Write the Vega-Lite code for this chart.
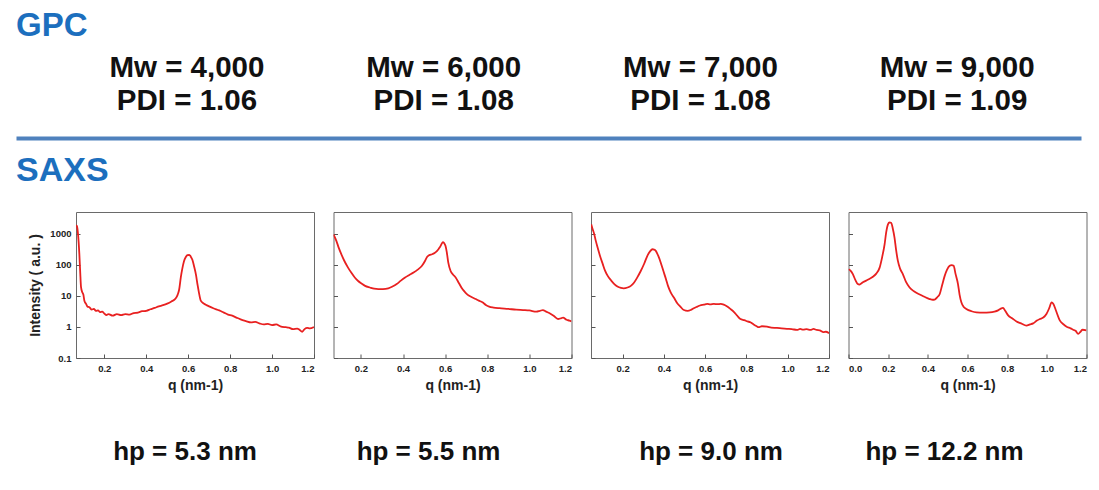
{
  "$schema": "https://vega.github.io/schema/vega-lite/v6.json",
  "background": "white",
  "padding": {"left": 16, "top": 10, "right": 3, "bottom": 0},
  "spacing": 15,
  "config": {
    "font": "Liberation Sans",
    "view": {"stroke": null},
    "axis": {"labelFontSize": 9.5, "labelFontWeight": "bold", "labelColor": "#222", "tickColor": "#555", "tickSize": -4, "domain": false, "grid": false, "titleFontSize": 14, "titleFontWeight": "bold", "titleColor": "#222"}
  },
  "datasets": {
    "gpc": [
      {"sample": "A", "label": "Mw = 4,000\nPDI = 1.06"},
      {"sample": "B", "label": "Mw = 6,000\nPDI = 1.08"},
      {"sample": "C", "label": "Mw = 7,000\nPDI = 1.08"},
      {"sample": "D", "label": "Mw = 9,000\nPDI = 1.09"}
    ],
    "saxs": [
      {"p":1,"q":0.066,"I":1900},{"p":1,"q":0.07,"I":1700},{"p":1,"q":0.075,"I":900},{"p":1,"q":0.081,"I":220},{"p":1,"q":0.085,"I":60},{"p":1,"q":0.089,"I":19},{"p":1,"q":0.095,"I":13},{"p":1,"q":0.1,"I":11},{"p":1,"q":0.105,"I":7},{"p":1,"q":0.113,"I":5.5},{"p":1,"q":0.12,"I":4.5},{"p":1,"q":0.129,"I":4.3},{"p":1,"q":0.14,"I":3.6},{"p":1,"q":0.15,"I":3.8},{"p":1,"q":0.16,"I":3.3},{"p":1,"q":0.17,"I":3.4},{"p":1,"q":0.18,"I":3.0},{"p":1,"q":0.19,"I":3.1},{"p":1,"q":0.2,"I":2.7},{"p":1,"q":0.21,"I":2.4},{"p":1,"q":0.22,"I":2.6},{"p":1,"q":0.24,"I":2.3},{"p":1,"q":0.26,"I":2.6},{"p":1,"q":0.28,"I":2.4},{"p":1,"q":0.3,"I":2.6},{"p":1,"q":0.32,"I":2.5},{"p":1,"q":0.34,"I":2.8},{"p":1,"q":0.36,"I":2.9},{"p":1,"q":0.38,"I":3.2},{"p":1,"q":0.4,"I":3.3},{"p":1,"q":0.42,"I":3.7},{"p":1,"q":0.44,"I":4.1},{"p":1,"q":0.46,"I":4.6},{"p":1,"q":0.48,"I":5.0},{"p":1,"q":0.5,"I":5.6},{"p":1,"q":0.52,"I":6.6},{"p":1,"q":0.54,"I":8.2},{"p":1,"q":0.55,"I":11},{"p":1,"q":0.557,"I":16},{"p":1,"q":0.565,"I":40},{"p":1,"q":0.572,"I":75},{"p":1,"q":0.58,"I":130},{"p":1,"q":0.588,"I":175},{"p":1,"q":0.597,"I":205},{"p":1,"q":0.605,"I":210},{"p":1,"q":0.612,"I":185},{"p":1,"q":0.62,"I":145},{"p":1,"q":0.628,"I":90},{"p":1,"q":0.637,"I":48},{"p":1,"q":0.645,"I":22},{"p":1,"q":0.652,"I":12},{"p":1,"q":0.66,"I":7},{"p":1,"q":0.672,"I":5.8},{"p":1,"q":0.684,"I":5.2},{"p":1,"q":0.7,"I":4.6},{"p":1,"q":0.72,"I":4.0},{"p":1,"q":0.748,"I":3.4},{"p":1,"q":0.77,"I":2.9},{"p":1,"q":0.79,"I":2.5},{"p":1,"q":0.81,"I":2.3},{"p":1,"q":0.83,"I":2.0},{"p":1,"q":0.85,"I":1.75},{"p":1,"q":0.875,"I":1.55},{"p":1,"q":0.9,"I":1.4},{"p":1,"q":0.92,"I":1.45},{"p":1,"q":0.94,"I":1.3},{"p":1,"q":0.96,"I":1.2},{"p":1,"q":0.98,"I":1.25},{"p":1,"q":1.0,"I":1.15},{"p":1,"q":1.02,"I":1.2},{"p":1,"q":1.04,"I":1.05},{"p":1,"q":1.065,"I":0.98},{"p":1,"q":1.08,"I":0.95},{"p":1,"q":1.1,"I":0.85},{"p":1,"q":1.12,"I":0.88},{"p":1,"q":1.13,"I":0.82},{"p":1,"q":1.144,"I":0.7},{"p":1,"q":1.155,"I":0.85},{"p":1,"q":1.168,"I":0.93},{"p":1,"q":1.18,"I":0.9},{"p":1,"q":1.2,"I":1.0},
      {"p":2,"q":0.07,"I":950},{"p":2,"q":0.084,"I":580},{"p":2,"q":0.095,"I":350},{"p":2,"q":0.107,"I":220},{"p":2,"q":0.12,"I":140},{"p":2,"q":0.139,"I":81},{"p":2,"q":0.155,"I":55},{"p":2,"q":0.171,"I":39},{"p":2,"q":0.187,"I":30},{"p":2,"q":0.203,"I":25},{"p":2,"q":0.22,"I":21},{"p":2,"q":0.243,"I":18.6},{"p":2,"q":0.263,"I":17},{"p":2,"q":0.283,"I":16.5},{"p":2,"q":0.305,"I":16.5},{"p":2,"q":0.33,"I":17.4},{"p":2,"q":0.35,"I":20},{"p":2,"q":0.37,"I":24},{"p":2,"q":0.39,"I":31},{"p":2,"q":0.41,"I":39},{"p":2,"q":0.43,"I":47},{"p":2,"q":0.45,"I":56},{"p":2,"q":0.47,"I":70},{"p":2,"q":0.49,"I":93},{"p":2,"q":0.505,"I":135},{"p":2,"q":0.514,"I":178},{"p":2,"q":0.525,"I":205},{"p":2,"q":0.538,"I":218},{"p":2,"q":0.55,"I":240},{"p":2,"q":0.562,"I":280},{"p":2,"q":0.57,"I":330},{"p":2,"q":0.578,"I":400},{"p":2,"q":0.584,"I":480},{"p":2,"q":0.589,"I":540},{"p":2,"q":0.595,"I":500},{"p":2,"q":0.602,"I":400},{"p":2,"q":0.608,"I":250},{"p":2,"q":0.615,"I":117},{"p":2,"q":0.626,"I":63},{"p":2,"q":0.638,"I":48},{"p":2,"q":0.65,"I":39},{"p":2,"q":0.665,"I":26},{"p":2,"q":0.682,"I":16.5},{"p":2,"q":0.695,"I":13},{"p":2,"q":0.706,"I":11},{"p":2,"q":0.725,"I":9.2},{"p":2,"q":0.745,"I":7.9},{"p":2,"q":0.76,"I":7.0},{"p":2,"q":0.777,"I":6.2},{"p":2,"q":0.795,"I":5.0},{"p":2,"q":0.809,"I":4.5},{"p":2,"q":0.83,"I":4.2},{"p":2,"q":0.857,"I":4.0},{"p":2,"q":0.9,"I":3.8},{"p":2,"q":0.937,"I":3.6},{"p":2,"q":0.97,"I":3.5},{"p":2,"q":1.0,"I":3.4},{"p":2,"q":1.033,"I":3.1},{"p":2,"q":1.05,"I":3.3},{"p":2,"q":1.064,"I":3.5},{"p":2,"q":1.08,"I":3.1},{"p":2,"q":1.096,"I":2.75},{"p":2,"q":1.115,"I":2.3},{"p":2,"q":1.136,"I":1.8},{"p":2,"q":1.15,"I":1.9},{"p":2,"q":1.16,"I":2.0},{"p":2,"q":1.176,"I":1.7},{"p":2,"q":1.19,"I":1.6},{"p":2,"q":1.2,"I":1.5},
      {"p":3,"q":0.048,"I":2000},{"p":3,"q":0.055,"I":1400},{"p":3,"q":0.063,"I":950},{"p":3,"q":0.07,"I":600},{"p":3,"q":0.079,"I":360},{"p":3,"q":0.09,"I":200},{"p":3,"q":0.104,"I":105},{"p":3,"q":0.115,"I":65},{"p":3,"q":0.128,"I":44},{"p":3,"q":0.145,"I":31},{"p":3,"q":0.16,"I":24},{"p":3,"q":0.175,"I":20},{"p":3,"q":0.192,"I":18},{"p":3,"q":0.205,"I":17.5},{"p":3,"q":0.224,"I":18.6},{"p":3,"q":0.24,"I":21},{"p":3,"q":0.256,"I":27},{"p":3,"q":0.272,"I":40},{"p":3,"q":0.288,"I":63},{"p":3,"q":0.305,"I":110},{"p":3,"q":0.32,"I":195},{"p":3,"q":0.333,"I":270},{"p":3,"q":0.345,"I":316},{"p":3,"q":0.353,"I":310},{"p":3,"q":0.361,"I":280},{"p":3,"q":0.372,"I":200},{"p":3,"q":0.385,"I":117},{"p":3,"q":0.397,"I":65},{"p":3,"q":0.41,"I":35},{"p":3,"q":0.42,"I":21},{"p":3,"q":0.433,"I":13},{"p":3,"q":0.45,"I":8.5},{"p":3,"q":0.465,"I":5.8},{"p":3,"q":0.48,"I":4.5},{"p":3,"q":0.497,"I":3.5},{"p":3,"q":0.515,"I":3.3},{"p":3,"q":0.53,"I":3.5},{"p":3,"q":0.545,"I":4.0},{"p":3,"q":0.562,"I":4.5},{"p":3,"q":0.575,"I":4.9},{"p":3,"q":0.594,"I":5.2},{"p":3,"q":0.61,"I":5.5},{"p":3,"q":0.625,"I":5.3},{"p":3,"q":0.642,"I":5.5},{"p":3,"q":0.66,"I":5.4},{"p":3,"q":0.675,"I":5.5},{"p":3,"q":0.69,"I":5.2},{"p":3,"q":0.705,"I":4.6},{"p":3,"q":0.722,"I":3.8},{"p":3,"q":0.74,"I":3.0},{"p":3,"q":0.755,"I":2.3},{"p":3,"q":0.771,"I":1.8},{"p":3,"q":0.79,"I":1.65},{"p":3,"q":0.805,"I":1.5},{"p":3,"q":0.819,"I":1.42},{"p":3,"q":0.835,"I":1.2},{"p":3,"q":0.85,"I":1.05},{"p":3,"q":0.859,"I":0.98},{"p":3,"q":0.875,"I":1.05},{"p":3,"q":0.9,"I":1.02},{"p":3,"q":0.92,"I":0.95},{"p":3,"q":0.948,"I":0.93},{"p":3,"q":0.97,"I":0.9},{"p":3,"q":0.996,"I":0.87},{"p":3,"q":1.02,"I":0.85},{"p":3,"q":1.045,"I":0.8},{"p":3,"q":1.06,"I":0.86},{"p":3,"q":1.075,"I":0.82},{"p":3,"q":1.092,"I":0.85},{"p":3,"q":1.11,"I":0.8},{"p":3,"q":1.125,"I":0.86},{"p":3,"q":1.14,"I":0.8},{"p":3,"q":1.155,"I":0.78},{"p":3,"q":1.173,"I":0.68},{"p":3,"q":1.185,"I":0.7},{"p":3,"q":1.2,"I":0.63},
      {"p":4,"q":0.0,"I":72},{"p":4,"q":0.01,"I":65},{"p":4,"q":0.022,"I":50},{"p":4,"q":0.035,"I":32},{"p":4,"q":0.047,"I":24},{"p":4,"q":0.055,"I":23},{"p":4,"q":0.064,"I":25},{"p":4,"q":0.075,"I":28},{"p":4,"q":0.089,"I":31},{"p":4,"q":0.105,"I":35},{"p":4,"q":0.123,"I":41},{"p":4,"q":0.14,"I":52},{"p":4,"q":0.157,"I":81},{"p":4,"q":0.17,"I":180},{"p":4,"q":0.182,"I":455},{"p":4,"q":0.19,"I":1100},{"p":4,"q":0.199,"I":2000},{"p":4,"q":0.207,"I":2300},{"p":4,"q":0.215,"I":2250},{"p":4,"q":0.223,"I":1500},{"p":4,"q":0.232,"I":745},{"p":4,"q":0.24,"I":300},{"p":4,"q":0.249,"I":133},{"p":4,"q":0.26,"I":75},{"p":4,"q":0.274,"I":50},{"p":4,"q":0.29,"I":28},{"p":4,"q":0.308,"I":18.6},{"p":4,"q":0.33,"I":14},{"p":4,"q":0.359,"I":11},{"p":4,"q":0.38,"I":9.5},{"p":4,"q":0.409,"I":7.9},{"p":4,"q":0.425,"I":7.5},{"p":4,"q":0.434,"I":7.6},{"p":4,"q":0.447,"I":9},{"p":4,"q":0.46,"I":11.5},{"p":4,"q":0.472,"I":22},{"p":4,"q":0.485,"I":44},{"p":4,"q":0.497,"I":70},{"p":4,"q":0.51,"I":93},{"p":4,"q":0.52,"I":98},{"p":4,"q":0.53,"I":93},{"p":4,"q":0.54,"I":50},{"p":4,"q":0.552,"I":24},{"p":4,"q":0.56,"I":11},{"p":4,"q":0.569,"I":6.2},{"p":4,"q":0.58,"I":4.5},{"p":4,"q":0.594,"I":3.8},{"p":4,"q":0.62,"I":3.2},{"p":4,"q":0.645,"I":2.95},{"p":4,"q":0.68,"I":2.9},{"p":4,"q":0.712,"I":2.95},{"p":4,"q":0.735,"I":3.1},{"p":4,"q":0.754,"I":3.4},{"p":4,"q":0.768,"I":3.9},{"p":4,"q":0.779,"I":4.1},{"p":4,"q":0.79,"I":3.3},{"p":4,"q":0.805,"I":2.35},{"p":4,"q":0.825,"I":1.9},{"p":4,"q":0.847,"I":1.5},{"p":4,"q":0.87,"I":1.3},{"p":4,"q":0.897,"I":1.1},{"p":4,"q":0.915,"I":1.2},{"p":4,"q":0.931,"I":1.3},{"p":4,"q":0.95,"I":1.6},{"p":4,"q":0.965,"I":1.8},{"p":4,"q":0.982,"I":2.0},{"p":4,"q":0.998,"I":2.6},{"p":4,"q":1.012,"I":4.0},{"p":4,"q":1.024,"I":6.2},{"p":4,"q":1.033,"I":5.5},{"p":4,"q":1.045,"I":3.5},{"p":4,"q":1.066,"I":1.6},{"p":4,"q":1.085,"I":1.2},{"p":4,"q":1.1,"I":1.02},{"p":4,"q":1.12,"I":0.9},{"p":4,"q":1.133,"I":0.81},{"p":4,"q":1.145,"I":0.75},{"p":4,"q":1.158,"I":0.6},{"p":4,"q":1.17,"I":0.7},{"p":4,"q":1.18,"I":0.81},{"p":4,"q":1.2,"I":0.78}
    ]
  },
  "vconcat": [
    {
      "title": {"text": "GPC", "anchor": "start", "frame": "group", "baseline": "top", "dx": -60, "fontSize": 33, "fontWeight": "bold", "color": "#1c6fbe", "offset": 4},
      "width": 1005,
      "height": 91,
      "view": {"stroke": null},
      "data": {"name": "gpc"},
      "mark": {"type": "text", "fontSize": 29.5, "fontWeight": "bold", "lineBreak": "\n", "lineHeight": 33, "baseline": "middle", "align": "center", "color": "#111", "dy": -25},
      "encoding": {
        "x": {"field": "sample", "type": "nominal", "sort": null, "scale": {"type": "point", "range": [-60, 1005], "padding": 0.574, "align": 0.58},
          "axis": {"orient": "bottom", "domain": true, "domainColor": "#4f81bd", "domainWidth": 4, "ticks": false, "labels": false, "title": null, "grid": false}},
        "text": {"field": "label", "type": "nominal"}
      }
    },
    {
      "title": {"text": "SAXS", "anchor": "start", "frame": "group", "baseline": "top", "dx": -60, "fontSize": 34, "fontWeight": "bold", "color": "#1c6fbe", "offset": 24},
      "bounds": "flush",
      "spacing": 19.5,
      "data": {"name": "saxs"},
      "hconcat": [
        {
          "width": 238, "height": 146,
          "view": {"stroke": "#6a6a6a", "strokeWidth": 1},
          "title": {"text": "hp = 5.3 nm", "orient": "bottom", "anchor": "middle", "frame": "group", "baseline": "top", "dx": -10, "offset": 46, "fontSize": 26, "fontWeight": "bold", "color": "#111"},
          "transform": [{"filter": "datum.p === 1"}],
          "mark": {"type": "line", "color": "#e82020", "strokeWidth": 1.8, "interpolate": "monotone", "clip": true},
          "encoding": {
            "x": {"field": "q", "type": "quantitative", "scale": {"domain": [0.065, 1.2], "nice": false, "zero": false},
              "axis": {"values": [0.2, 0.4, 0.6, 0.8, 1.0, 1.2], "format": ".1f", "labelPadding": 9, "title": "q (nm-1)", "titlePadding": 6}},
            "y": {"field": "I", "type": "quantitative", "scale": {"type": "log", "domain": [0.1, 5000], "nice": false},
              "axis": {"values": [0.1, 1, 10, 100, 1000], "format": "~g", "labelPadding": 9, "title": "Intensity ( a.u. )", "titlePadding": 7}}
          }
        },
        {
          "width": 238, "height": 146,
          "view": {"stroke": "#6a6a6a", "strokeWidth": 1},
          "title": {"text": "hp = 5.5 nm", "orient": "bottom", "anchor": "middle", "frame": "group", "baseline": "top", "dx": -24, "offset": 46, "fontSize": 26, "fontWeight": "bold", "color": "#111"},
          "transform": [{"filter": "datum.p === 2"}],
          "mark": {"type": "line", "color": "#e82020", "strokeWidth": 1.8, "interpolate": "monotone", "clip": true},
          "encoding": {
            "x": {"field": "q", "type": "quantitative", "scale": {"domain": [0.07, 1.2], "nice": false, "zero": false},
              "axis": {"values": [0.2, 0.4, 0.6, 0.8, 1.0, 1.2], "format": ".1f", "labelPadding": 9, "title": "q (nm-1)", "titlePadding": 6}},
            "y": {"field": "I", "type": "quantitative", "scale": {"type": "log", "domain": [0.1, 5000], "nice": false},
              "axis": {"values": [0.1, 1, 10, 100, 1000], "labels": false, "title": null}}
          }
        },
        {
          "width": 238, "height": 146,
          "view": {"stroke": "#6a6a6a", "strokeWidth": 1},
          "title": {"text": "hp = 9.0 nm", "orient": "bottom", "anchor": "middle", "frame": "group", "baseline": "top", "dx": 1, "offset": 46, "fontSize": 26, "fontWeight": "bold", "color": "#111"},
          "transform": [{"filter": "datum.p === 3"}],
          "mark": {"type": "line", "color": "#e82020", "strokeWidth": 1.8, "interpolate": "monotone", "clip": true},
          "encoding": {
            "x": {"field": "q", "type": "quantitative", "scale": {"domain": [0.047, 1.2], "nice": false, "zero": false},
              "axis": {"values": [0.2, 0.4, 0.6, 0.8, 1.0, 1.2], "format": ".1f", "labelPadding": 9, "title": "q (nm-1)", "titlePadding": 6}},
            "y": {"field": "I", "type": "quantitative", "scale": {"type": "log", "domain": [0.1, 5000], "nice": false},
              "axis": {"values": [0.1, 1, 10, 100, 1000], "labels": false, "title": null}}
          }
        },
        {
          "width": 238, "height": 146,
          "view": {"stroke": "#6a6a6a", "strokeWidth": 1},
          "title": {"text": "hp = 12.2 nm", "orient": "bottom", "anchor": "middle", "frame": "group", "baseline": "top", "dx": -23, "offset": 46, "fontSize": 26, "fontWeight": "bold", "color": "#111"},
          "transform": [{"filter": "datum.p === 4"}],
          "mark": {"type": "line", "color": "#e82020", "strokeWidth": 1.8, "interpolate": "monotone", "clip": true},
          "encoding": {
            "x": {"field": "q", "type": "quantitative", "scale": {"domain": [0, 1.2], "nice": false, "zero": false},
              "axis": {"values": [0, 0.2, 0.4, 0.6, 0.8, 1.0, 1.2], "format": ".1f", "labelPadding": 9, "title": "q (nm-1)", "titlePadding": 6}},
            "y": {"field": "I", "type": "quantitative", "scale": {"type": "log", "domain": [0.1, 5000], "nice": false},
              "axis": {"values": [0.1, 1, 10, 100, 1000], "labels": false, "title": null}}
          }
        }
      ]
    }
  ]
}
